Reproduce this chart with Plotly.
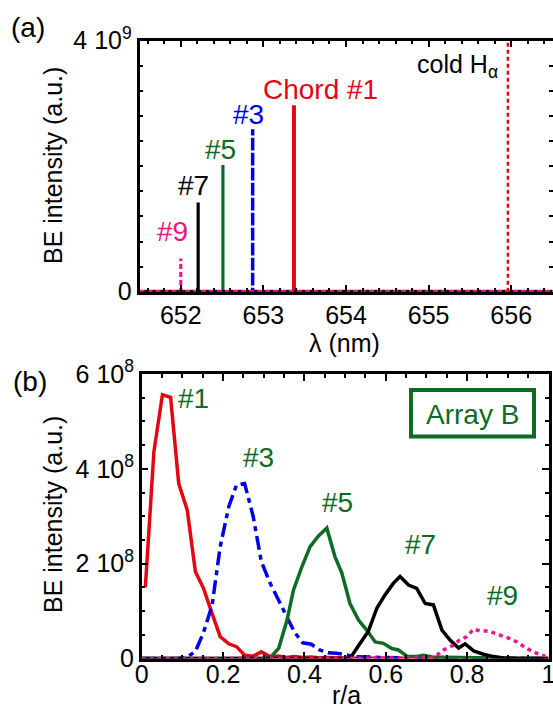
import plotly.graph_objects as go

W, H = 553, 708
def px(x): return x / W
def py(y): return 1 - y / H

# ---------- panel (a) data ----------
chords_a = ["#1", "#3", "#5", "#7", "#9"]
peak_wl = [653.37, 652.87, 652.51, 652.21, 652.00]       # nm
peak_int = [2.97e9, 2.59e9, 2.02e9, 1.42e9, 0.53e9]       # a.u.
cold_halpha = 655.96
wl_range = [651.5, 656.5]

# ---------- panel (b) data ----------
r_red = [0.009, 0.030, 0.051, 0.071, 0.091, 0.112, 0.132, 0.152, 0.173, 0.193, 0.214, 0.233,
         0.253, 0.274, 0.294, 0.315, 0.335, 0.355, 0.376, 0.396, 0.417, 0.437, 0.458, 0.50, 0.60, 1.0]
i_red = [1.50, 4.36, 5.56, 5.51, 3.69, 3.13, 1.83, 1.48, 0.95, 0.46, 0.31, 0.25,
         0.07, 0.05, 0.14, 0.04, 0.05, 0.02, 0.04, 0.02, 0.03, 0.01, 0.02, 0.01, 0.005, 0.0]

r_blue = [0.0, 0.09, 0.112, 0.132, 0.152, 0.173, 0.193, 0.214, 0.233, 0.253, 0.274, 0.294, 0.315,
          0.335, 0.355, 0.376, 0.396, 0.417, 0.437, 0.458, 0.478, 0.498, 0.519, 0.55, 0.60, 0.70, 1.0]
i_blue = [0.0, 0.0, 0.03, 0.15, 0.55, 1.12, 2.36, 3.20, 3.66, 3.69, 3.00, 2.05, 1.60,
          1.25, 0.90, 0.55, 0.33, 0.30, 0.18, 0.12, 0.11, 0.09, 0.04, 0.03, 0.02, 0.01, 0.0]

r_green = [0.0, 0.296, 0.316, 0.337, 0.357, 0.373, 0.394, 0.414, 0.434, 0.455, 0.475, 0.492, 0.512,
           0.533, 0.553, 0.574, 0.594, 0.615, 0.631, 0.652, 0.673, 0.693, 0.714, 0.75, 0.85, 1.0]
i_green = [0.0, 0.0, 0.02, 0.22, 0.80, 1.44, 1.94, 2.36, 2.58, 2.75, 2.15, 1.80, 1.16,
           0.81, 0.60, 0.35, 0.32, 0.21, 0.18, 0.05, 0.04, 0.07, 0.03, 0.02, 0.01, 0.0]

r_black = [0.0, 0.49, 0.512, 0.537, 0.557, 0.578, 0.598, 0.619, 0.635, 0.656, 0.676, 0.697, 0.717,
           0.738, 0.758, 0.779, 0.795, 0.816, 0.840, 0.865, 0.89, 0.92, 1.0]
i_black = [0.0, 0.0, 0.0, 0.32, 0.57, 1.06, 1.34, 1.59, 1.73, 1.55, 1.48, 1.16, 1.13,
           0.60, 0.39, 0.22, 0.31, 0.16, 0.09, 0.04, 0.01, 0.0, 0.0]

r_pink = [0.0, 0.70, 0.717, 0.742, 0.766, 0.78, 0.799, 0.816, 0.832, 0.852, 0.877, 0.902, 0.922,
          0.947, 0.971, 0.992]
i_pink = [0.0, 0.0, 0.01, 0.18, 0.28, 0.38, 0.46, 0.62, 0.58, 0.58, 0.51, 0.43, 0.35,
          0.21, 0.11, 0.05]

RED, BLUE, GREEN, BLACK, PINK = "#e30613", "#0000e6", "#0e6b25", "#000000", "#f0148c"
FONT = "Liberation Sans, Arial, sans-serif"

fig = go.Figure()

# panel (a) spectra
styles_a = [(RED, "solid", 4), (BLUE, "12px,3px", 3.5), (GREEN, "solid", 3.2),
            (BLACK, "solid", 3.2), (PINK, "5px,3px", 3.2)]
for wl, h, (c, d, w) in zip(peak_wl, peak_int, styles_a):
    fig.add_trace(go.Scatter(x=[wl_range[0], wl, wl, wl, wl_range[1]], y=[0, 0, h, 0, 0],
                             mode="lines", line=dict(color=c, dash=d, width=w),
                             xaxis="x", yaxis="y", showlegend=False))
fig.add_trace(go.Scatter(x=[cold_halpha, cold_halpha], y=[0, 4e9], mode="lines",
                         line=dict(color=RED, dash="4px,3px", width=2.5),
                         xaxis="x", yaxis="y", showlegend=False))

# panel (b) profiles
series_b = [(r_red, i_red, RED, "solid"), (r_blue, i_blue, BLUE, "14px,5px,5px,5px"),
            (r_green, i_green, GREEN, "solid"), (r_black, i_black, BLACK, "solid"),
            (r_pink, i_pink, PINK, "4px,4px")]
for r, v, c, d in series_b:
    fig.add_trace(go.Scatter(x=r, y=[q * 1e8 for q in v], mode="lines",
                             line=dict(color=c, dash=d, width=3.5),
                             xaxis="x2", yaxis="y2", showlegend=False))

axis_common = dict(showline=True, linecolor="black", linewidth=2.5, mirror="ticks",
                   ticks="inside", ticklen=7, tickwidth=2, tickcolor="black",
                   showgrid=False, zeroline=False, automargin=False,
                   ticklabeloverflow="allow",
                   tickfont=dict(family=FONT, size=25, color="black"))

fig.update_layout(
    template="none",
    width=W, height=H, margin=dict(l=0, r=0, t=0, b=0),
    paper_bgcolor="white", plot_bgcolor="white",
    font=dict(family=FONT, color="black"),
    xaxis=dict(domain=[px(139.5), px(552.5)], range=wl_range, anchor="y",
               tickmode="array", tickvals=[652, 653, 654, 655, 656],
               minor=dict(tickmode="linear", tick0=651.6, dtick=0.2, ticks="inside", ticklen=4,
                          tickwidth=1.5, tickcolor="black"),
               **axis_common),
    yaxis=dict(domain=[py(291.7), py(40.7)], range=[0, 4e9], anchor="x",
               tickmode="array", tickvals=[0, 4e9], ticktext=["0", "4 10<sup>9</sup>"],
               minor=dict(tickmode="linear", tick0=0, dtick=4e8, ticks="inside", ticklen=4,
                          tickwidth=1.5, tickcolor="black"),
               **axis_common),
    xaxis2=dict(domain=[px(141.7), px(548.5)], range=[0, 1], anchor="y2",
                tickmode="array", tickvals=[0, 0.2, 0.4, 0.6, 0.8, 1.0],
                ticktext=["0", "0.2", "0.4", "0.6", "0.8", "1"],
                ticklabelstandoff=-8,
                minor=dict(tickmode="linear", tick0=0, dtick=0.05, ticks="inside", ticklen=4,
                           tickwidth=1.5, tickcolor="black"),
                **axis_common),
    yaxis2=dict(domain=[py(658.5), py(374)], range=[0, 6e8], anchor="x2",
                tickmode="array", tickvals=[0, 2e8, 4e8, 6e8],
                ticktext=["0", "2 10<sup>8</sup>", "4 10<sup>8</sup>", "6 10<sup>8</sup>"],
                minor=dict(tickmode="linear", tick0=0, dtick=5e7, ticks="inside", ticklen=4,
                           tickwidth=1.5, tickcolor="black"),
                **axis_common),
)

def ann(text, x, y, color="black", size=28, xanchor="center", angle=0):
    fig.add_annotation(text=text, x=px(x), y=py(y), xref="paper", yref="paper",
                       xanchor=xanchor, yanchor="middle", showarrow=False, textangle=angle,
                       font=dict(family=FONT, size=size, color=color))

ann("(a)", 28, 28, size=28)
ann("(b)", 30, 381, size=28)
ann("BE intensity (a.u.)", 53, 166, size=25, angle=-90)
ann("BE intensity (a.u.)", 53, 515, size=25, angle=-90)
ann("λ (nm)", 345, 343, size=25)
ann("r/a", 346, 695, size=25)
ann("cold H<sub>α</sub>", 500, 66, size=25, xanchor="right")

ann("Chord #1", 320.5, 89, RED)
ann("#3", 248.3, 114, BLUE)
ann("#5", 220.7, 149, GREEN)
ann("#7", 193.3, 185.5, BLACK)
ann("#9", 172.3, 231, PINK)

ann("#1", 193.7, 398, GREEN)
ann("#3", 258.5, 457, GREEN)
ann("#5", 337.5, 502, GREEN)
ann("#7", 420, 544, GREEN)
ann("#9", 502.5, 595, GREEN)
ann("Array B", 472, 415, GREEN)
fig.add_shape(type="rect", xref="paper", yref="paper", x0=px(411), x1=px(534),
              y0=py(436.5), y1=py(390), line=dict(color=GREEN, width=4))

fig.write_html("out.html", config={"displayModeBar": False},
               post_script="document.body.style.margin='0px';document.body.style.padding='0px';"
                           "document.documentElement.style.overflow='hidden';")
